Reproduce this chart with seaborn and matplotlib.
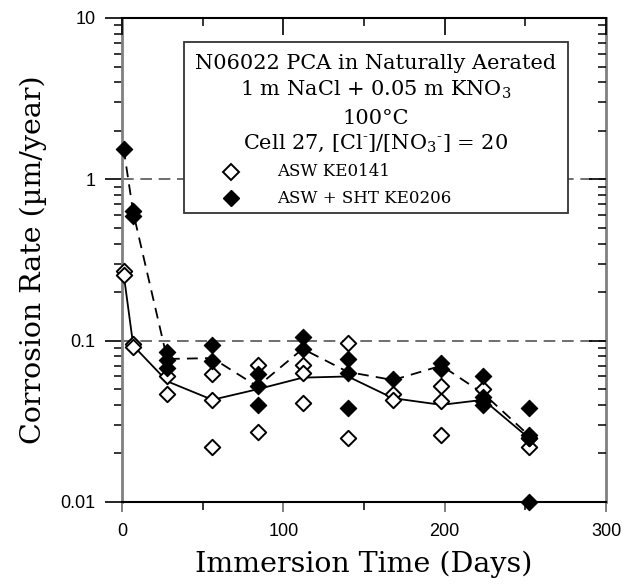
import matplotlib
matplotlib.use('Agg')
import matplotlib.pyplot as plt
import seaborn as sns
import pandas as pd
from matplotlib.lines import Line2D
from matplotlib.patches import Rectangle
from matplotlib.ticker import FixedLocator, LogLocator, NullFormatter, FixedFormatter, MultipleLocator

# ---- data ----
open_days = [1, 1, 7, 7, 28, 28, 56, 56, 56, 84, 84, 112, 112, 112, 140, 140,
             168, 168, 198, 198, 198, 224, 252, 252]
open_rate = [0.27, 0.255, 0.095, 0.091, 0.060, 0.047, 0.062, 0.043, 0.022, 0.071, 0.027,
             0.071, 0.063, 0.041, 0.097, 0.025, 0.047, 0.043, 0.052, 0.042, 0.026,
             0.050, 0.022, 0.025]
filled_days = [1, 7, 7, 28, 28, 28, 56, 56, 84, 84, 84, 112, 112, 140, 140, 140,
               168, 198, 198, 224, 224, 224, 224, 252, 252, 252, 252]
filled_rate = [1.55, 0.64, 0.59, 0.085, 0.076, 0.068, 0.094, 0.075, 0.062, 0.052, 0.040,
               0.105, 0.089, 0.077, 0.063, 0.038, 0.058, 0.073, 0.067, 0.060, 0.045,
               0.042, 0.040, 0.038, 0.026, 0.025, 0.010]
mean_days = [1, 7, 28, 56, 84, 112, 140, 168, 198, 224, 252]
open_mean = [0.26, 0.093, 0.056, 0.043, 0.050, 0.059, 0.060, 0.044, 0.040, 0.043, 0.025]
filled_mean = [1.55, 0.62, 0.077, 0.078, 0.052, 0.089, 0.064, 0.057, 0.070, 0.047, 0.026]

series_labels = ["ASW KE0141", "ASW + SHT KE0206"]
x_ticks = [0, 100, 200, 300]
y_ticks = [0.01, 0.1, 1, 10]
y_tick_labels = ["0.01", "0.1", "1", "10"]
box_lines = ["N06022 PCA in Naturally Aerated",
             r"1 m NaCl + 0.05 m KNO$_3$",
             "100°C",
             "Cell 27, [Cl$^{\u2010}$]/[NO$_3$$^{\u2010}$] = 20"]

sns.set_style("white")
plt.rcParams['font.family'] = ['DejaVu Serif']
plt.rcParams['mathtext.fontset'] = 'dejavuserif'
for k in ['text.color', 'axes.labelcolor', 'xtick.color', 'ytick.color',
          'xtick.labelcolor', 'ytick.labelcolor']:
    plt.rcParams[k] = 'black'

df_open = pd.DataFrame({"days": open_days, "rate": open_rate})
df_filled = pd.DataFrame({"days": filled_days, "rate": filled_rate})
df_mean = pd.DataFrame({"days": mean_days, "open": open_mean, "filled": filled_mean})

fig = plt.figure(figsize=(6.36, 5.85), dpi=100)
ax = fig.add_axes([122/636, 1-502/585, 484/636, 484/585])
ax.set_yscale('log')
ax.set_xlim(0, 300)
ax.set_ylim(0.01, 10)

# grid lines
for g in [0.1, 1]:
    ax.axhline(g, color='#555555', lw=1.2, linestyle=(0, (7, 4)), zorder=1)

sns.lineplot(data=df_mean, x="days", y="open", color='black', lw=1.3, ax=ax,
             zorder=2, estimator=None, sort=False)
sns.lineplot(data=df_mean, x="days", y="filled", color='black', lw=1.3, ax=ax,
             linestyle=(0, (6, 4)), zorder=2, estimator=None, sort=False)
sns.scatterplot(data=df_open, x="days", y="rate", marker='D', s=62, facecolor='white',
                edgecolor='black', linewidth=1.4, ax=ax, zorder=3, clip_on=False)
sns.scatterplot(data=df_filled, x="days", y="rate", marker='D', s=70, color='black',
                edgecolor='black', linewidth=0.8, ax=ax, zorder=4, clip_on=False)

ax.set_xlabel("Immersion Time (Days)", fontsize=20.5, labelpad=8, color='black')
ax.set_ylabel("Corrosion Rate (µm/year)", fontsize=20.5, labelpad=10, color='black')

# ticks
ax.xaxis.set_major_locator(FixedLocator(x_ticks))
ax.xaxis.set_minor_locator(MultipleLocator(50))
ax.yaxis.set_major_locator(FixedLocator(y_ticks))
ax.yaxis.set_major_formatter(FixedFormatter(y_tick_labels))
ax.yaxis.set_minor_locator(LogLocator(base=10, subs=range(2, 10)))
ax.yaxis.set_minor_formatter(NullFormatter())
ax.tick_params(axis='y', which='major', direction='out', length=12, width=1.2,
               color='black', pad=7, labelsize=13, labelcolor='black')
ax.tick_params(axis='y', which='minor', direction='out', length=6, width=1.1, color='black')
ax.tick_params(axis='x', which='major', direction='out', length=7, width=1.4,
               color='#808080', pad=8, labelsize=13, labelcolor='black')
ax.tick_params(axis='x', which='minor', direction='out', length=6, width=1.1, color='black')
for lab in ax.get_xticklabels() + ax.get_yticklabels():
    lab.set_family('Liberation Sans')

ax.spines['left'].set_color('#808080')
ax.spines['right'].set_color('#808080')
ax.spines['left'].set_linewidth(2)
ax.spines['right'].set_linewidth(2)
ax.spines['top'].set_color('black')
ax.spines['bottom'].set_color('black')
ax.spines['top'].set_linewidth(1.5)
ax.spines['bottom'].set_linewidth(1.5)

# top / right inward ticks via twin axes
axr = ax.twinx()
axr.set_yscale('log')
axr.set_ylim(0.01, 10)
axr.yaxis.set_major_locator(FixedLocator(y_ticks))
axr.yaxis.set_minor_locator(LogLocator(base=10, subs=range(2, 10)))
axr.tick_params(axis='y', which='major', direction='in', length=12, width=1.2,
                labelright=False, color='black')
axr.tick_params(axis='y', which='minor', direction='in', length=6, width=1.1,
                labelright=False, color='black')
axr.yaxis.set_minor_formatter(NullFormatter())
axt = ax.twiny()
axt.set_xlim(0, 300)
axt.xaxis.set_major_locator(FixedLocator(x_ticks))
axt.xaxis.set_minor_locator(MultipleLocator(50))
axt.tick_params(axis='x', which='major', direction='in', length=12, width=1.2,
                labeltop=False, color='black')
axt.tick_params(axis='x', which='minor', direction='in', length=6, width=1.1,
                labeltop=False, color='black')
for a in (axr, axt):
    for s in a.spines.values():
        s.set_visible(False)

# annotation box
box = Rectangle((0.128, 0.597), 0.7935, 0.3535, transform=ax.transAxes,
                facecolor='white', edgecolor='#333333', lw=1.3, zorder=5)
ax.add_patch(box)
ys = [0.907, 0.851, 0.793, 0.742]
for t, y in zip(box_lines, ys):
    ax.text(0.524, y, t, transform=ax.transAxes, ha='center', va='center',
            fontsize=15, zorder=6, color='black')

handles = [Line2D([], [], marker='D', ls='none', ms=8, mfc='white', mec='black', mew=1.4),
           Line2D([], [], marker='D', ls='none', ms=8.5, mfc='black', mec='black')]
for h, lab, y in zip(handles, series_labels, [0.682, 0.628]):
    ax.add_line(Line2D([0.225], [y], transform=ax.transAxes, marker='D', ls='none',
                       ms=h.get_markersize(), mfc=h.get_markerfacecolor(),
                       mec='black', mew=h.get_markeredgewidth(), zorder=6, clip_on=False))
    ax.text(0.32, y, lab, transform=ax.transAxes, ha='left', va='center',
            fontsize=12, zorder=6, color='black')

fig.savefig('out.png', dpi=100)
